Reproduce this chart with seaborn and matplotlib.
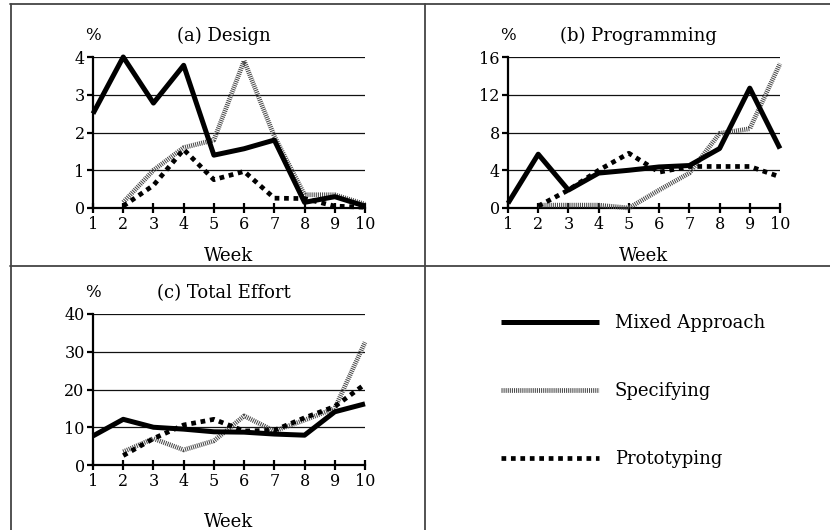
import numpy as np
import pandas as pd
import matplotlib
matplotlib.use("Agg")
import matplotlib.pyplot as plt
from matplotlib.lines import Line2D
import seaborn as sns

# --- Données ---
weeks = [1, 2, 3, 4, 5, 6, 7, 8, 9, 10]
weeks_late = [2, 3, 4, 5, 6, 7, 8, 9, 10]

design_mixed = [2.5, 4.0, 2.78, 3.78, 1.4, 1.57, 1.8, 0.15, 0.3, 0.05]
design_spec = [0.15, 1.0, 1.6, 1.8, 3.9, 1.9, 0.35, 0.35, 0.1]
design_proto = [0.05, 0.6, 1.55, 0.75, 0.97, 0.26, 0.25, 0.05, 0.02]

prog_mixed = [0.5, 5.7, 1.9, 3.7, 4.0, 4.35, 4.5, 6.3, 12.7, 6.3]
prog_spec = [0.3, 0.3, 0.3, 0.0, 1.9, 3.7, 7.9, 8.4, 15.3]
prog_proto = [0.2, 1.9, 4.0, 5.8, 3.8, 4.4, 4.4, 4.4, 3.3]

total_mixed = [7.7, 12.1, 10.0, 9.5, 8.8, 8.7, 8.2, 7.9, 14.1, 16.2]
total_spec = [3.5, 7.0, 4.0, 6.4, 13.0, 9.0, 11.9, 15.0, 32.5]
total_proto = [2.5, 7.0, 10.6, 12.1, 9.0, 9.2, 12.5, 15.5, 21.4]

series_names = ["Mixed Approach", "Specifying", "Prototyping"]
panel_titles = ["(a) Design", "(b) Programming", "(c) Total Effort"]

sns.set_style("ticks")
plt.rcParams['font.family'] = ['DejaVu Serif']
plt.rcParams['lines.scale_dashes'] = False
for k in ["text.color", "axes.labelcolor", "xtick.color", "ytick.color", "axes.edgecolor"]:
    plt.rcParams[k] = "black"

W, H = 830, 530
fig = plt.figure(figsize=(8.3, 5.3), dpi=100)


def px_axes(x0, x1, y_top, y_bot):
    return fig.add_axes([x0 / W, (H - y_bot) / H, (x1 - x0) / W, (y_bot - y_top) / H])


styles = {
    "Mixed Approach": dict(color="black", lw=3.6, linestyle="-"),
    "Specifying": dict(color="#4a4a4a", lw=3.4, linestyle=(0, (0.75, 0.75))),
    "Prototyping": dict(color="black", lw=3.4, linestyle=(0, (3.4, 3.4))),
}


def draw_panel(ax, mixed, spec, proto, yticks, title, xlabel_pad):
    for name, xs, ys in [("Specifying", weeks_late, spec),
                         ("Prototyping", weeks_late, proto),
                         ("Mixed Approach", weeks, mixed)]:
        df = pd.DataFrame({"week": xs, "val": ys})
        sns.lineplot(data=df, x="week", y="val", ax=ax, label=name,
                     clip_on=False, solid_capstyle="butt",
                     dash_capstyle="butt", legend=False, **styles[name])
    ax.set_xlim(1, 10)
    ax.set_ylim(yticks[0], yticks[-1])
    ax.set_xticks(weeks)
    ax.set_yticks(yticks)
    ax.yaxis.grid(True, color="#111111", lw=0.9)
    ax.set_axisbelow(True)
    for s in ["top", "right"]:
        ax.spines[s].set_visible(False)
    for s in ["left", "bottom"]:
        ax.spines[s].set_linewidth(1.6)
        ax.spines[s].set_zorder(1)
    ax.tick_params(axis="x", direction="inout", length=7, width=1.6,
                   labelsize=11.5, pad=2)
    ax.tick_params(axis="y", direction="out", length=4.5, width=1.6,
                   labelsize=11.5, pad=1.5)
    ax.set_xlabel("Week", fontsize=13, labelpad=xlabel_pad)
    ax.set_ylabel("")
    ax.text(0.0, 1.14, "%", transform=ax.transAxes, ha="center",
            va="center", fontsize=12)
    ax.text(0.48, 1.14, title, transform=ax.transAxes, ha="center",
            va="center", fontsize=13)


ax_a = px_axes(93, 365, 57, 208)
ax_b = px_axes(508, 780, 57, 208)
ax_c = px_axes(93, 365, 314, 465)

draw_panel(ax_a, design_mixed, design_spec, design_proto, [0, 1, 2, 3, 4], panel_titles[0], 10)
draw_panel(ax_b, prog_mixed, prog_spec, prog_proto, [0, 4, 8, 12, 16], panel_titles[1], 10)
draw_panel(ax_c, total_mixed, total_spec, total_proto, [0, 10, 20, 30, 40], panel_titles[2], 17)

# cadres
def px_line(xs, ys, **kw):
    fig.add_artist(Line2D([x / W for x in xs], [(H - y) / H for y in ys],
                          transform=fig.transFigure, **kw))

frame_kw = dict(color="#444444", lw=1.3)
px_line([10, 830], [3.5, 3.5], **frame_kw)
px_line([10.5, 10.5], [3.5, 530], **frame_kw)
px_line([425, 425], [3.5, 530], **frame_kw)
px_line([10, 830], [266, 266], **frame_kw)

# légende
handles, labels = ax_c.get_legend_handles_labels()
order = [labels.index(n) for n in series_names]
fig.legend([handles[i] for i in order], [labels[i] for i in order],
           loc="upper left", bbox_to_anchor=(501 / W, (H - 314) / H),
           frameon=False, fontsize=13, handlelength=5.4, handletextpad=0.9,
           labelspacing=2.78, borderpad=0, borderaxespad=0)

fig.savefig("out.png", dpi=100)
